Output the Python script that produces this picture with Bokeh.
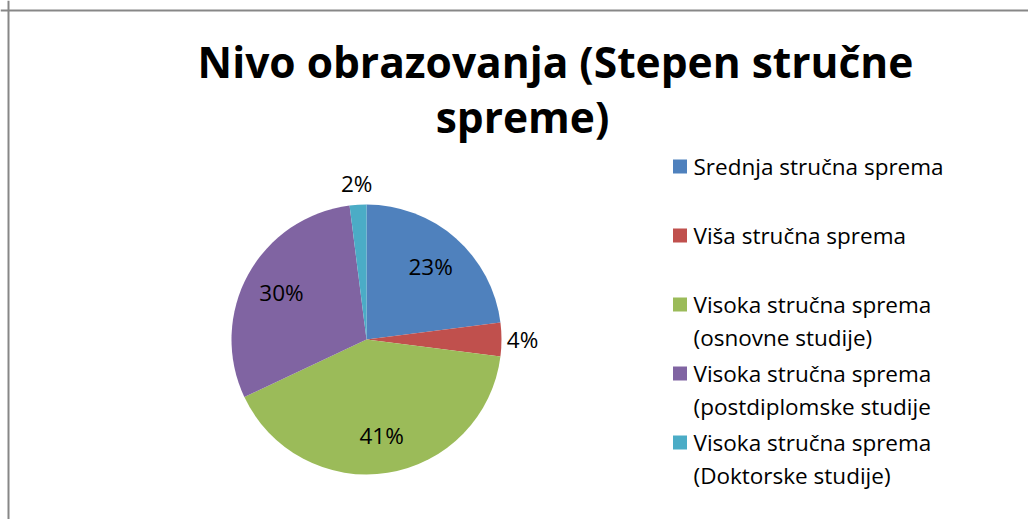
import math
from bokeh.plotting import figure
from bokeh.models import Range1d, Span, ColumnDataSource
from bokeh.core.properties import value
from bokeh.embed import file_html
from bokeh.resources import INLINE

# ---- data ----
title_lines = ["Nivo obrazovanja (Stepen stručne", "spreme)"]
categories = [
    "Srednja stručna sprema",
    "Viša stručna sprema",
    "Visoka stručna sprema (osnovne studije)",
    "Visoka stručna sprema (postdiplomske studije",
    "Visoka stručna sprema (Doktorske studije)",
]
percent = [23, 4, 41, 30, 2]
colors = ["#4F81BD", "#C0504D", "#9BBB59", "#8064A2", "#4BACC6"]

# ---- layout ----
W, H = 1028, 519
FONT = "Open Sans"
p = figure(width=W, height=H, output_backend="svg", toolbar_location=None,
           x_range=Range1d(0, W), y_range=Range1d(0, H), min_border=0)
p.axis.visible = False
p.grid.visible = False
p.outline_line_color = None
p.background_fill_color = "white"
p.border_fill_color = "white"

# chart border (left/top)
p.add_layout(Span(location=8, dimension="height", line_color="#878787", line_width=2))
p.add_layout(Span(location=H - 10, dimension="width", line_color="#878787", line_width=2))

cx, cy, R = 366, H - 339, 135
total = float(sum(percent))
starts, ends, mids = [], [], []
acc = 0.0
for v in percent:
    a0 = math.pi / 2 - 2 * math.pi * acc / total
    acc += v
    a1 = math.pi / 2 - 2 * math.pi * acc / total
    starts.append(a0); ends.append(a1); mids.append((a0 + a1) / 2)

src = ColumnDataSource(dict(start=starts, end=ends, color=colors))
p.wedge(x=cx, y=cy, radius=R, start_angle="start", end_angle="end",
        direction="clock", fill_color="color", line_color=None, source=src)

# data labels
lx, ly, lt = [], [], []
for v, m in zip(percent, mids):
    r = 97 if v / total >= 0.05 else 156
    lx.append(cx + r * math.cos(m)); ly.append(cy + r * math.sin(m)); lt.append(f"{v}%")
p.text(x=lx, y=ly, text=lt, text_font=value(FONT), text_font_size="22.5px",
       text_align="center", text_baseline="middle", text_color="black")

# title
p.text(x=[555, 522], y=[H - 61, H - 115.5], text=title_lines, text_font=value(FONT),
       text_font_size="42.5px", text_font_style="bold", text_align="center",
       text_baseline="middle", text_color="black")

# legend
sq_x, txt_x, top_c, step, lh = 679.5, 693, H - 166, 69, 33
sq_y, tx, ty, tt = [], [], [], []
for i, name in enumerate(categories):
    yc = top_c - i * step
    sq_y.append(yc)
    if " (" in name:
        a, b = name.split(" (", 1)
        lines = [a, "(" + b]
    else:
        lines = [name]
    for j, ln in enumerate(lines):
        tx.append(txt_x); ty.append(yc - j * lh); tt.append(ln)
p.rect(x=[sq_x] * len(sq_y), y=sq_y, width=14, height=14, width_units="screen",
       height_units="screen", fill_color=colors, line_color=None)
p.text(x=tx, y=ty, text=tt, text_font=value(FONT), text_font_size="22.5px",
       text_align="left", text_baseline="middle", text_color="black")

open("out.html", "w").write(file_html(p, INLINE))
